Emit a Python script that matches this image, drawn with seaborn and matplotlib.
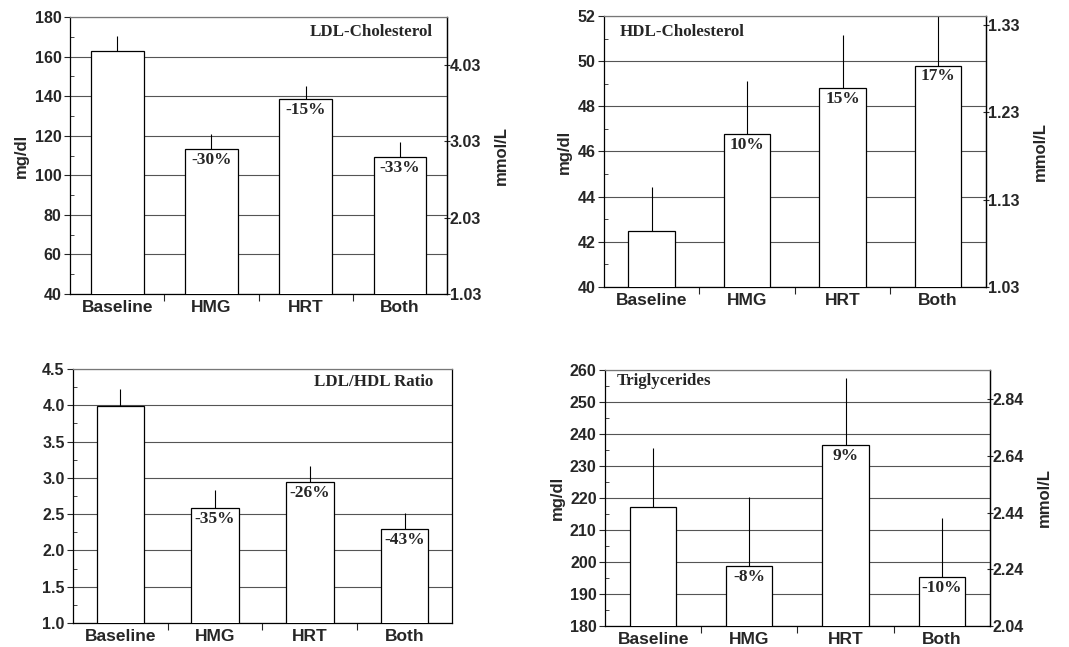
import numpy as np
import pandas as pd
import matplotlib
matplotlib.use('Agg')
import matplotlib.pyplot as plt
import seaborn as sns

sns.set_style('ticks')
plt.rcParams['font.family'] = ['Liberation Sans', 'DejaVu Sans']
plt.rcParams['font.weight'] = 'bold'

# dados
grupos = ['Baseline', 'HMG', 'HRT', 'Both']

ldl = [162.6, 113.4, 138.5, 109.2]
ldl_erro = [8.0, 7.4, 6.9, 7.8]
ldl_pct = ['', '-30%', '-15%', '-33%']

hdl = [42.5, 46.76, 48.8, 49.8]
hdl_erro = [1.93, 2.36, 2.36, 2.6]
hdl_pct = ['', '10%', '15%', '17%']

razao = [3.99, 2.58, 2.94, 2.29]
razao_erro = [0.23, 0.25, 0.22, 0.23]
razao_pct = ['', '-35%', '-26%', '-43%']

tg = [217.1, 198.7, 236.6, 195.2]
tg_erro = [18.6, 21.5, 20.8, 18.4]
tg_pct = ['', '-8%', '9%', '-10%']

ldl_mmol_ticks = [1.03, 2.03, 3.03, 4.03]
hdl_mmol_ticks = [1.03, 1.13, 1.23, 1.33]
tg_mmol_ticks = [2.04, 2.24, 2.44, 2.64, 2.84]

serif = ['Liberation Serif', 'DejaVu Serif']


def painel(ax, valores, erros, pcts, ylim, passo, titulo, tx, ty, tha, largura,
           conv=None, mmol_ticks=None, ylabel=True):
    df = pd.DataFrame({'grupo': grupos, 'valor': valores})
    sns.barplot(data=df, x='grupo', y='valor', color='white', edgecolor='black',
                linewidth=0.9, width=largura, saturation=1, ax=ax, zorder=3)
    ax.errorbar(np.arange(len(grupos)), valores,
                yerr=[np.zeros(len(erros)), erros], fmt='none',
                ecolor='black', elinewidth=0.8, capsize=0, zorder=2)
    for i, p in enumerate(pcts):
        if p:
            ax.annotate(p, (i, valores[i]), xytext=(0, -2), textcoords='offset points',
                        ha='center', va='top', fontsize=12.5, fontweight='bold',
                        family=serif, zorder=4)
    ax.text(tx, ty, titulo, transform=ax.transAxes, ha=tha, va='center',
            fontsize=12.2, fontweight='bold', family=serif, zorder=5)

    ax.set_xlim(-0.5, 3.5)
    ax.set_ylim(*ylim)
    ax.set_yticks(np.arange(ylim[0], ylim[1] + passo / 2, passo))
    ax.set_yticks(np.arange(ylim[0], ylim[1], passo / 2), minor=True)
    ax.set_xticks([0.5, 1.5, 2.5], minor=True)
    ax.tick_params(axis='x', which='major', length=0, pad=4, labelsize=12.5)
    ax.tick_params(axis='x', which='minor', length=5, width=0.8, direction='out')
    ax.tick_params(axis='y', which='major', length=4, width=0.8, direction='out',
                   labelsize=11.5, pad=2)
    ax.tick_params(axis='y', which='minor', length=3, width=0.6, direction='in')
    ax.set_xlabel('')
    ax.set_ylabel('mg/dl' if ylabel else '', fontsize=12, fontweight='bold', labelpad=4)
    if passo < 1:
        ax.yaxis.set_major_formatter(matplotlib.ticker.FormatStrFormatter('%.1f'))

    ax.grid(axis='y', which='major', color='#555555', linewidth=0.8, zorder=0)
    ax.set_axisbelow(True)
    for lado in ['left', 'bottom', 'right']:
        ax.spines[lado].set_color('black')
        ax.spines[lado].set_linewidth(0.9)
    ax.spines['top'].set_color('#777777')
    ax.spines['top'].set_linewidth(0.9)

    if conv is not None:
        base, lo, fator = conv
        sec = ax.secondary_yaxis('right',
                                 functions=(lambda y: base + (y - lo) / fator,
                                            lambda m: lo + (m - base) * fator))
        sec.set_yticks(mmol_ticks)
        sec.yaxis.set_major_formatter(matplotlib.ticker.FormatStrFormatter('%.2f'))
        sec.tick_params(axis='y', length=4, width=0.8, direction='inout',
                        labelsize=11.5, pad=0)
        sec.spines['right'].set_linewidth(0.9)
        sec.set_ylabel('mmol/L', fontsize=12, fontweight='bold', labelpad=9)


fig = plt.figure(figsize=(10.69, 6.47), dpi=100)
ax1 = fig.add_axes([0.0655, 0.5456, 0.3527, 0.428])
ax2 = fig.add_axes([0.565, 0.5564, 0.357, 0.419])
ax3 = fig.add_axes([0.0683, 0.0371, 0.3545, 0.3926])
ax4 = fig.add_axes([0.566, 0.0325, 0.360, 0.3957])

painel(ax1, ldl, ldl_erro, ldl_pct, (40, 180), 20, 'LDL-Cholesterol',
       0.963, 0.946, 'right', 0.56, conv=(1.03, 40, 38.67), mmol_ticks=ldl_mmol_ticks)
painel(ax2, hdl, hdl_erro, hdl_pct, (40, 52), 2, 'HDL-Cholesterol',
       0.042, 0.941, 'left', 0.49, conv=(1.03, 40, 38.67), mmol_ticks=hdl_mmol_ticks)
painel(ax3, razao, razao_erro, razao_pct, (1.0, 4.5), 0.5, 'LDL/HDL Ratio',
       0.95, 0.949, 'right', 0.50, ylabel=False)
painel(ax4, tg, tg_erro, tg_pct, (180, 260), 10, 'Triglycerides',
       0.031, 0.957, 'left', 0.48, conv=(2.04, 180, 88.57), mmol_ticks=tg_mmol_ticks)

fig.savefig('out.png', dpi=100)
